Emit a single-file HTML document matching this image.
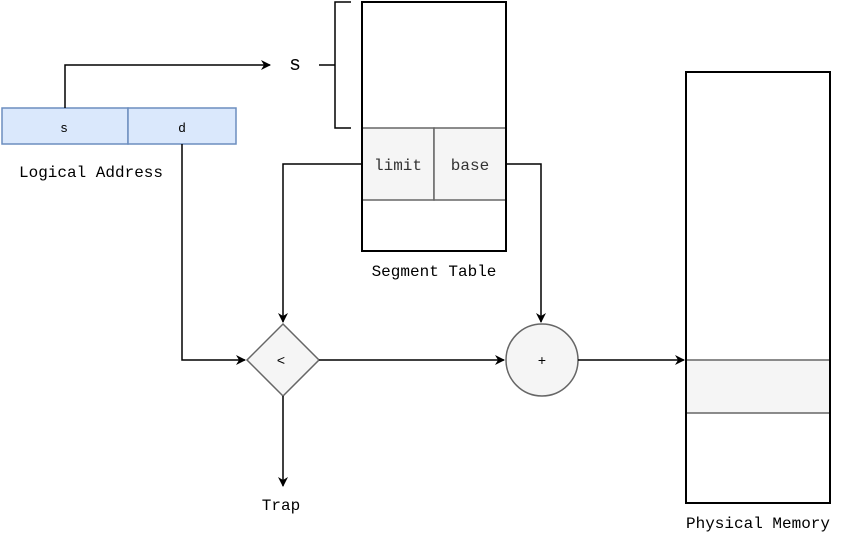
<!DOCTYPE html>
<html><head><style>body{margin:0;background:#fff}svg{display:block}</style></head>
<body>
<svg width="857" height="540" viewBox="0 0 857 540" xmlns="http://www.w3.org/2000/svg" font-family="'Liberation Mono', monospace">
<defs><marker id="a" markerWidth="10" markerHeight="10" refX="9" refY="5" orient="auto" markerUnits="userSpaceOnUse"><path d="M0,0 L10,5 L0,10 L3,5 Z" fill="#000"/></marker></defs>
<rect x="2" y="108" width="126" height="36" fill="#dae8fc" stroke="#6c8ebf" stroke-width="1.5"/>
<rect x="128" y="108" width="108" height="36" fill="#dae8fc" stroke="#6c8ebf" stroke-width="1.5"/>
<text x="64" y="132" font-size="13" text-anchor="middle">s</text>
<text x="182" y="132" font-size="13" text-anchor="middle">d</text>
<text x="91" y="177" font-size="16" text-anchor="middle">Logical Address</text>
<path d="M65 108 V65 H270" fill="none" stroke="#000" stroke-width="1.5" marker-end="url(#a)"/>
<text x="295" y="70" font-size="20" text-anchor="middle">s</text>
<path d="M319 65 H335 M351 2 H335 V128 H351" fill="none" stroke="#000" stroke-width="1.5"/>
<rect x="362" y="2" width="144" height="249" fill="#fff" stroke="#000" stroke-width="2"/>
<rect x="362" y="128" width="72" height="72" fill="#f5f5f5" stroke="#666" stroke-width="1.5"/>
<rect x="434" y="128" width="72" height="72" fill="#f5f5f5" stroke="#666" stroke-width="1.5"/>
<path d="M362 2 V251 H506 V2 Z" fill="none" stroke="#000" stroke-width="2"/>
<text x="398" y="170" font-size="16" text-anchor="middle" fill="#333">limit</text>
<text x="470" y="170" font-size="16" text-anchor="middle" fill="#333">base</text>
<text x="434" y="276" font-size="16" text-anchor="middle">Segment Table</text>
<path d="M362 164 H283 V322" fill="none" stroke="#000" stroke-width="1.5" marker-end="url(#a)"/>
<path d="M506 164 H541 V322" fill="none" stroke="#000" stroke-width="1.5" marker-end="url(#a)"/>
<path d="M182 144 V360 H245" fill="none" stroke="#000" stroke-width="1.5" marker-end="url(#a)"/>
<polygon points="283,324 319,360 283,396 247,360" fill="#f5f5f5" stroke="#666" stroke-width="1.5"/>
<text x="281" y="365" font-size="14" text-anchor="middle">&lt;</text>
<path d="M319 360 H504" fill="none" stroke="#000" stroke-width="1.5" marker-end="url(#a)"/>
<path d="M283 396 V486" fill="none" stroke="#000" stroke-width="1.5" marker-end="url(#a)"/>
<text x="281" y="510" font-size="16" text-anchor="middle">Trap</text>
<circle cx="542" cy="360" r="36" fill="#f5f5f5" stroke="#666" stroke-width="1.5"/>
<text x="542" y="365" font-size="14" text-anchor="middle">+</text>
<path d="M578 360 H684" fill="none" stroke="#000" stroke-width="1.5" marker-end="url(#a)"/>
<rect x="686" y="72" width="144" height="431" fill="#fff" stroke="#000" stroke-width="2"/>
<rect x="686" y="360" width="144" height="53" fill="#f5f5f5" stroke="#666" stroke-width="1.5"/>
<path d="M686 72 V503 H830 V72 Z" fill="none" stroke="#000" stroke-width="2"/>
<text x="758" y="528" font-size="16" text-anchor="middle">Physical Memory</text>
</svg>
</body></html>
